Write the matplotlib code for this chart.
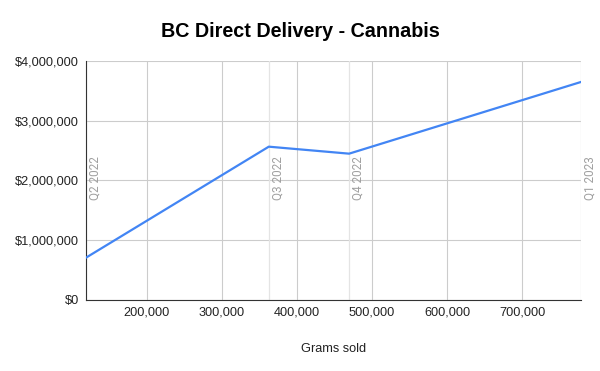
import matplotlib.pyplot as plt
from matplotlib.ticker import FuncFormatter, MultipleLocator

plt.rcParams['font.family'] = ['Liberation Sans', 'DejaVu Sans']

# data
quarters = ["Q2 2022", "Q3 2022", "Q4 2022", "Q1 2023"]
grams_sold = [118700, 362300, 469300, 778300]
revenue = [708000, 2566000, 2449000, 3649000]

fig = plt.figure(figsize=(6, 3.71), dpi=100)
ax = fig.add_axes([0.1433, 0.1914, 0.825, 0.6442])

ax.plot(grams_sold, revenue, color="#4285F4", linewidth=1.6, zorder=3)

# light vertical markers at each quarter with rotated labels
for q, g in zip(quarters, grams_sold):
    ax.axvline(g, color="#e4e4e4", linewidth=0.9, zorder=1)
    ax.text(g + 3500, 2400000, q, rotation=90, ha="left", va="top",
            fontsize=8.5, color="#a0a0a0", clip_on=False, family="Roboto")

ax.set_xlim(grams_sold[0], grams_sold[-1])
ax.set_ylim(0, 4000000)
ax.xaxis.set_major_locator(MultipleLocator(100000))
ax.yaxis.set_major_locator(MultipleLocator(1000000))
ax.xaxis.set_major_formatter(FuncFormatter(lambda v, p: f"{v:,.0f}"))
ax.yaxis.set_major_formatter(FuncFormatter(lambda v, p: f"${v:,.0f}"))

ax.grid(True, color="#cccccc", linewidth=0.8, zorder=0)
ax.set_axisbelow(True)
for s in ["top", "right"]:
    ax.spines[s].set_visible(False)
ax.spines["left"].set_color("#333333")
ax.spines["bottom"].set_color("#333333")
ax.tick_params(length=0, labelsize=9.2, colors="#222222", pad=5)

ax.set_xlabel("Grams sold", fontsize=9.2, color="#222222", labelpad=17)
fig.suptitle("BC Direct Delivery - Cannabis", fontsize=14.2, fontweight="bold",
             x=0.5, y=0.94)

fig.savefig("out.png", dpi=100)
